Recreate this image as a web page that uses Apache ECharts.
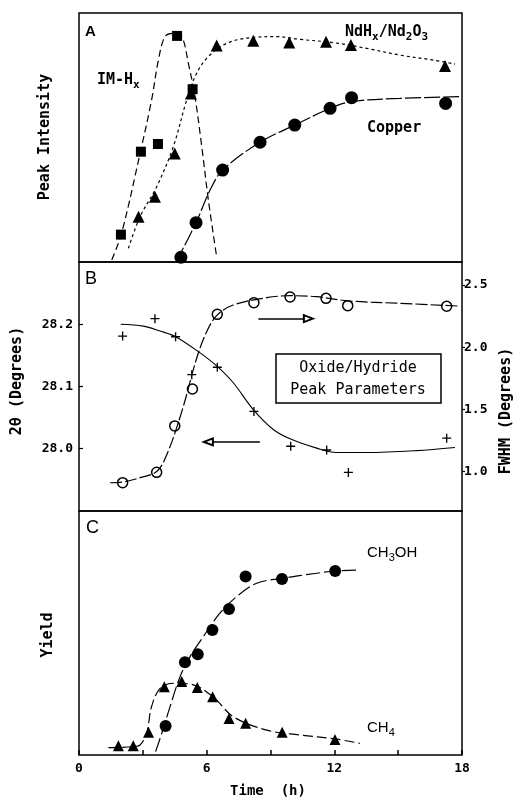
<!DOCTYPE html>
<html>
<head>
<meta charset="utf-8">
<script src="https://cdn.jsdelivr.net/npm/echarts@6/dist/echarts.min.js"></script>
<style>
  html, body { margin: 0; padding: 0; background: #fff; }
  #chart { width: 514px; height: 798px; }
</style>
</head>
<body>
<div id="chart"></div>
<script>
// ---- panel A : peak intensity (arbitrary units 0-100)
const timeIM = [1.97, 2.91, 3.71, 4.61, 5.34];
const valIM = [11.0, 44.3, 47.4, 90.8, 69.4];
const curveIM = [[1.54, 0.8], [2.0, 11.5], [2.87, 43.6], [3.41, 65], [3.73, 81], [4.04, 90.5], [4.43, 91.8], [4.83, 90.5], [5.14, 79.8], [5.45, 66.4], [5.77, 46.3], [6.08, 24.9], [6.47, 2.1]];

const timeNd = [2.80, 3.57, 4.50, 5.26, 6.47, 8.19, 9.88, 11.61, 12.78, 17.2];
const valNd = [18.2, 26.2, 43.6, 67.7, 86.9, 88.9, 88.2, 88.5, 87.1, 78.7];
const curveNd = [[2.32, 5.5], [2.87, 18.2], [3.65, 30.2], [4.43, 46.3], [5.06, 65.1], [5.45, 74.4], [6.0, 81.8], [6.94, 87.8], [8.19, 90.2], [9.29, 90.5], [10.39, 89.4], [11.95, 88.1], [13.52, 85.8], [15.08, 83.1], [16.65, 81.1], [17.67, 79.5]];

const timeCu = [4.79, 5.50, 6.75, 8.51, 10.14, 11.80, 12.81, 17.23];
const valCu = [1.9, 15.8, 36.9, 48.1, 55, 61.7, 66, 63.7];
const curveCu = [[4.56, 0], [5.5, 15.8], [6.16, 28.9], [6.75, 36.9], [8.51, 48.1], [10.14, 55], [11.8, 61.7], [12.81, 64.4], [15.08, 65.7], [17.9, 66.4]];

// ---- panel B : 2theta (left) and FWHM (right)
const timeTheta = [2.05, 3.57, 4.54, 5.30, 6.50, 8.22, 9.95, 11.64, 12.66, 17.28];
const valTheta = [28.181, 28.209, 28.180, 28.119, 28.131, 28.060, 28.004, 27.998, 27.962, 28.017];
const curveTheta = [[1.96, 28.200], [3.02, 28.197], [3.81, 28.189], [4.54, 28.180], [5.69, 28.154], [6.47, 28.133], [7.25, 28.106], [8.19, 28.063], [9.13, 28.031], [9.92, 28.016], [11.17, 28.001], [12.11, 27.994], [13.52, 27.994], [15.86, 27.997], [17.67, 28.002]];

const timeFwhm = [2.05, 3.65, 4.50, 5.33, 6.50, 8.22, 9.92, 11.61, 12.63, 17.28];
const valFwhm = [0.911, 0.994, 1.367, 1.664, 2.264, 2.358, 2.404, 2.393, 2.334, 2.329];
const curveFwhm = [[1.46, 0.91], [2.05, 0.915], [2.87, 0.951], [3.65, 1.0], [4.12, 1.133], [4.83, 1.482], [5.53, 1.911], [6.0, 2.125], [6.5, 2.26], [7.25, 2.339], [8.82, 2.398], [9.92, 2.414], [11.17, 2.406], [12.73, 2.371], [15.08, 2.353], [17.82, 2.331]];

const thetaTicks = [28.0, 28.1, 28.2];
const fwhmTicks = [1.0, 1.5, 2.0, 2.5];

// arrows pointing to the axis each curve belongs to
const arrowRight = [[8.43, 28.209], [10.78, 28.209]];
const arrowLeft = [[8.5, 28.011], [6.08, 28.011]];

// ---- panel C : yield (arbitrary units 0-100)
const timeMeOH = [4.07, 4.98, 5.58, 6.27, 7.05, 7.83, 9.54, 12.04];
const valMeOH = [11.9, 38.0, 41.3, 51.2, 59.8, 73.2, 72.1, 75.4];
const curveMeOH = [[3.60, 1.4], [3.89, 8.9], [4.28, 19.8], [4.75, 32.1], [5.22, 40.3], [5.84, 48.5], [6.62, 58.1], [7.41, 64.9], [8.35, 70.4], [9.54, 72.4], [11.17, 74.5], [12.04, 75.4], [13.08, 75.8]];

const timeCH4 = [1.85, 2.55, 3.27, 4.01, 4.83, 5.56, 6.28, 7.05, 7.83, 9.55, 12.03];
const valCH4 = [3.8, 3.8, 9.3, 28.0, 30.1, 27.7, 23.9, 15.0, 13.0, 9.3, 6.4];
const curveCH4 = [[1.38, 3.0], [2.55, 3.4], [2.87, 4.1], [3.18, 8.9], [3.41, 19.8], [3.81, 27.3], [4.43, 29.4], [5.22, 29.1], [6.28, 24.0], [7.25, 15.7], [8.82, 10.2], [10.39, 8.2], [12.03, 6.6], [13.2, 4.8]];

const timeLabels = [0, 6, 12, 18];

const mono = 'DejaVu Sans Mono';
const zip = (xs, ys) => xs.map((x, i) => [x, ys[i]]);

const chart = echarts.init(document.getElementById('chart'), null, { renderer: 'canvas' });

const gridBox = { left: 79, width: 383, show: true, borderColor: '#000', borderWidth: 1.5, backgroundColor: 'transparent' };

function xAx(idx, labels) {
  return {
    type: 'value', gridIndex: idx, min: 0, max: 18, interval: 3,
    axisLine: { show: false }, splitLine: { show: false },
    axisTick: { show: labels, inside: true, length: 5, lineStyle: { color: '#000', width: 1.5 } },
    axisLabel: {
      show: labels, margin: 7, color: '#000', fontFamily: mono, fontWeight: 'bold', fontSize: 13,
      formatter: v => (timeLabels.indexOf(v) >= 0 ? String(v) : '')
    }
  };
}

function blankY(idx) {
  return {
    type: 'value', gridIndex: idx, min: 0, max: 100,
    axisLine: { show: false }, axisTick: { show: false }, axisLabel: { show: false }, splitLine: { show: false }
  };
}

function lineS(data, xi, yi, dash, width) {
  return {
    type: 'line', data: data, xAxisIndex: xi, yAxisIndex: yi, smooth: 0.35,
    symbol: 'none', clip: false, silent: true,
    lineStyle: { color: '#000', width: width || 1.2, type: dash }
  };
}

function dots(data, xi, yi, symbol, size, style) {
  return {
    type: 'scatter', data: data, xAxisIndex: xi, yAxisIndex: yi, symbol: symbol, symbolSize: size,
    clip: false, silent: true, itemStyle: style || { color: '#000', opacity: 1 }
  };
}

const plusPath = 'path://M3.4,0H4.6V8H3.4ZM0,3.4H8V4.6H0Z';

function label(x, y, rich, txt, extra) {
  return Object.assign({
    type: 'text', x: x, y: y, silent: true,
    style: { text: txt, rich: rich, fill: '#000', font: 'bold 15px "DejaVu Sans Mono"', verticalAlign: 'middle' }
  }, extra || {});
}

const subRich = {
  m: { fontFamily: mono, fontWeight: 'bold', fontSize: 15, lineHeight: 18 },
  s: { fontFamily: mono, fontWeight: 'bold', fontSize: 11, lineHeight: 18, padding: [10, 0, 0, 0] }
};
const subRichSans = {
  m: { fontFamily: 'Liberation Sans', fontSize: 15, lineHeight: 18 },
  s: { fontFamily: 'Liberation Sans', fontSize: 11, lineHeight: 18, padding: [10, 0, 0, 0] }
};

const option = {
  animation: false,
  backgroundColor: '#fff',
  grid: [
    Object.assign({ top: 13, height: 249 }, gridBox),
    Object.assign({ top: 262, height: 249 }, gridBox),
    Object.assign({ top: 511, height: 244 }, gridBox)
  ],
  xAxis: [xAx(0, false), xAx(1, false), xAx(2, true)],
  yAxis: [
    blankY(0),
    {
      type: 'value', gridIndex: 1, position: 'left', min: 27.9, max: 28.3,
      axisLine: { show: false }, splitLine: { show: false },
      axisTick: { show: true, inside: true, length: 4, customValues: thetaTicks, lineStyle: { color: '#000', width: 1.2 } },
      axisLabel: { margin: 6, color: '#000', fontFamily: mono, fontWeight: 'bold', fontSize: 13, customValues: thetaTicks, formatter: v => v.toFixed(1) }
    },
    {
      type: 'value', gridIndex: 1, position: 'right', min: 0.683, max: 2.685,
      axisLine: { show: false }, splitLine: { show: false },
      axisTick: { show: true, inside: false, length: 3, customValues: fwhmTicks, lineStyle: { color: '#000', width: 1.2 } },
      axisLabel: { margin: 2, color: '#000', fontFamily: mono, fontWeight: 'bold', fontSize: 13, customValues: fwhmTicks, formatter: v => v.toFixed(1) }
    },
    blankY(2)
  ],
  series: [
    lineS(curveIM, 0, 0, [7, 4]),
    dots(zip(timeIM, valIM), 0, 0, 'rect', 10),
    lineS(curveNd, 0, 0, [3, 3]),
    dots(zip(timeNd, valNd), 0, 0, 'triangle', 12),
    lineS(curveCu, 0, 0, [16, 3]),
    dots(zip(timeCu, valCu), 0, 0, 'circle', 13),

    Object.assign(lineS(curveTheta, 1, 1, 'solid', 1.1), {
      markLine: {
        silent: true, symbol: ['none', 'emptyTriangle'], symbolSize: [7, 9],
        label: { show: false },
        lineStyle: { color: '#000', width: 1.5, type: 'solid' },
        data: [
          [{ coord: arrowRight[0] }, { coord: arrowRight[1] }],
          [{ coord: arrowLeft[0] }, { coord: arrowLeft[1] }]
        ]
      }
    }),
    dots(zip(timeTheta, valTheta), 1, 1, plusPath, 9),
    lineS(curveFwhm, 1, 2, [12, 3]),
    dots(zip(timeFwhm, valFwhm), 1, 2, 'circle', 10, { color: '#fff', borderColor: '#000', borderWidth: 1.5, opacity: 1 }),

    lineS(curveMeOH, 2, 3, [14, 4]),
    dots(zip(timeMeOH, valMeOH), 2, 3, 'circle', 12),
    lineS(curveCH4, 2, 3, [10, 4]),
    dots(zip(timeCH4, valCH4), 2, 3, 'triangle', 11)
  ],
  graphic: [
    // panel letters
    label(85, 32, null, 'A', { style: { text: 'A', fill: '#000', font: 'bold 15px "Liberation Sans"', verticalAlign: 'middle' } }),
    label(85, 279, null, 'B', { style: { text: 'B', fill: '#000', font: '18px "Liberation Sans"', verticalAlign: 'middle' } }),
    label(86, 528, null, 'C', { style: { text: 'C', fill: '#000', font: '18px "Liberation Sans"', verticalAlign: 'middle' } }),
    // series names
    label(97, 80, subRich, '{m|IM-H}{s|x}'),
    label(345, 32, subRich, '{m|NdH}{s|x}{m|/Nd}{s|2}{m|O}{s|3}'),
    label(367, 128, null, 'Copper'),
    label(367, 553, subRichSans, '{m|CH}{s|3}{m|OH}'),
    label(367, 728, subRichSans, '{m|CH}{s|4}'),
    // legend box in panel B
    { type: 'rect', silent: true, shape: { x: 276, y: 354, width: 165, height: 49 }, style: { fill: '#fff', stroke: '#000', lineWidth: 1.5 } },
    { type: 'text', silent: true, x: 358, y: 368, style: { text: 'Oxide/Hydride', fill: '#000', font: '15px "DejaVu Sans Mono"', align: 'center', verticalAlign: 'middle' } },
    { type: 'text', silent: true, x: 358, y: 390, style: { text: 'Peak Parameters', fill: '#000', font: '15px "DejaVu Sans Mono"', align: 'center', verticalAlign: 'middle' } },
    // axis titles
    { type: 'text', silent: true, x: 45, y: 137, rotation: Math.PI / 2, style: { text: 'Peak Intensity', fill: '#000', font: 'bold 15px "DejaVu Sans Mono"', align: 'center', verticalAlign: 'middle' } },
    { type: 'text', silent: true, x: 17, y: 381, rotation: Math.PI / 2, style: { text: '2θ (Degrees)', fill: '#000', font: 'bold 15px "DejaVu Sans Mono"', align: 'center', verticalAlign: 'middle' } },
    { type: 'text', silent: true, x: 506, y: 411, rotation: Math.PI / 2, style: { text: 'FWHM (Degrees)', fill: '#000', font: 'bold 15px "DejaVu Sans Mono"', align: 'center', verticalAlign: 'middle' } },
    { type: 'text', silent: true, x: 48, y: 635, rotation: Math.PI / 2, style: { text: 'Yield', fill: '#000', font: 'bold 15px "DejaVu Sans Mono"', align: 'center', verticalAlign: 'middle' } },
    { type: 'text', silent: true, x: 268, y: 791, style: { text: 'Time  (h)', fill: '#000', font: 'bold 14px "DejaVu Sans Mono"', align: 'center', verticalAlign: 'middle' } }
  ]
};

chart.setOption(option);
</script>
</body>
</html>
